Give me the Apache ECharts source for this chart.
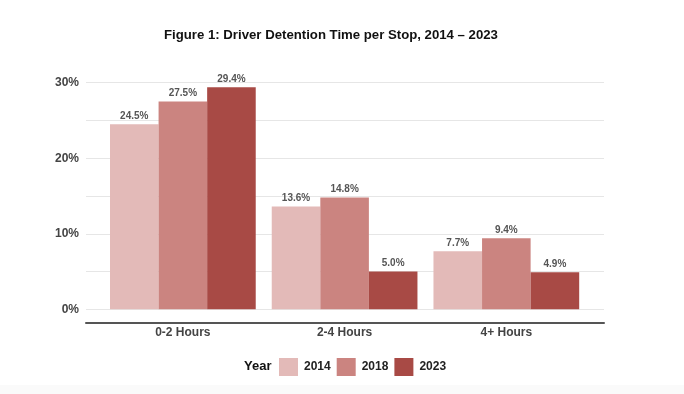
<!DOCTYPE html>
<html><head><meta charset="utf-8">
<script src="https://cdn.jsdelivr.net/npm/echarts@6/dist/echarts.min.js"></script>
<style>html,body{margin:0;padding:0;background:#fff}#c{width:684px;height:394px}</style>
</head><body><div id="c"></div>
<script>
var categories = ['0-2 Hours', '2-4 Hours', '4+ Hours'];
var years = ['2014', '2018', '2023'];
var v2014 = [24.5, 13.6, 7.7];
var v2018 = [27.5, 14.8, 9.4];
var v2023 = [29.4, 5.0, 4.9];
var yTicks = [0, 10, 20, 30];
var colors = ['#e3bab8', '#cb8480', '#a84a45'];
var FONT = "'Liberation Sans', Arial, sans-serif";

var seriesVals = [v2014, v2018, v2023];
var chart = echarts.init(document.getElementById('c'), null, {renderer: 'canvas'});
var series = years.map(function (y, i) {
  return {
    name: y, type: 'bar', xAxisIndex: 1, yAxisIndex: 1,
    data: seriesVals[i],
    barGap: '0%', barCategoryGap: '9.9%',
    itemStyle: {color: colors[i]},
    label: {show: true, position: 'top', distance: 3, color: '#555', fontFamily: FONT, fontWeight: 'bold', fontSize: 10,
      formatter: function (p) { return p.value.toFixed(1) + '%'; }}
  };
});
chart.setOption({
  backgroundColor: '#fff',
  animation: false,
  title: {text: 'Figure 1: Driver Detention Time per Stop, 2014 \u2013 2023', left: 159, top: 24, padding: 5,
    textStyle: {fontFamily: FONT, fontWeight: 'bold', fontSize: 13.2, color: '#111'}},
  legend: {data: years, left: 279, top: 358, padding: 0, icon: 'rect', itemWidth: 19, itemHeight: 18, itemGap: 6,
    textStyle: {fontFamily: FONT, fontWeight: 'bold', fontSize: 12, color: '#222', padding: [0, 0, 0, 1]}},
  grid: [
    {left: 86, right: 80, top: 82.7, bottom: 394 - 309.3},
    {left: 102, right: 684 - 587.2, top: 82.7, bottom: 394 - 309.3}
  ],
  xAxis: [
    {type: 'category', gridIndex: 0, data: categories, offset: 13,
      axisLine: {show: true, onZero: false, lineStyle: {color: '#555', width: 2}}, axisTick: {show: false}, axisLabel: {show: false}},
    {type: 'category', gridIndex: 1, data: categories, offset: 13,
      axisLine: {show: false, onZero: false}, axisTick: {show: false},
      axisLabel: {margin: 4, color: '#444', fontFamily: FONT, fontWeight: 'bold', fontSize: 12}}
  ],
  yAxis: [
    {type: 'value', gridIndex: 0, min: 0, max: 30, interval: 5,
      axisLine: {show: false}, axisTick: {show: false},
      axisLabel: {margin: 7, color: '#444', fontFamily: FONT, fontWeight: 'bold', fontSize: 12,
        formatter: function (v) { return yTicks.indexOf(v) >= 0 ? v + '%' : ''; }},
      splitLine: {lineStyle: {color: '#e6e6e6', width: 1}}},
    {type: 'value', gridIndex: 1, min: 0, max: 30, interval: 5, show: false, splitLine: {show: false}}
  ],
  graphic: [
    {type: 'text', left: 244, top: 360, style: {text: 'Year', fontFamily: FONT, fontWeight: 'bold', fontSize: 13, fill: '#111'}},
    {type: 'rect', left: 0, top: 385, shape: {width: 684, height: 9}, style: {fill: '#fafafa'}, z: -10}
  ],
  series: series
});
</script></body></html>
